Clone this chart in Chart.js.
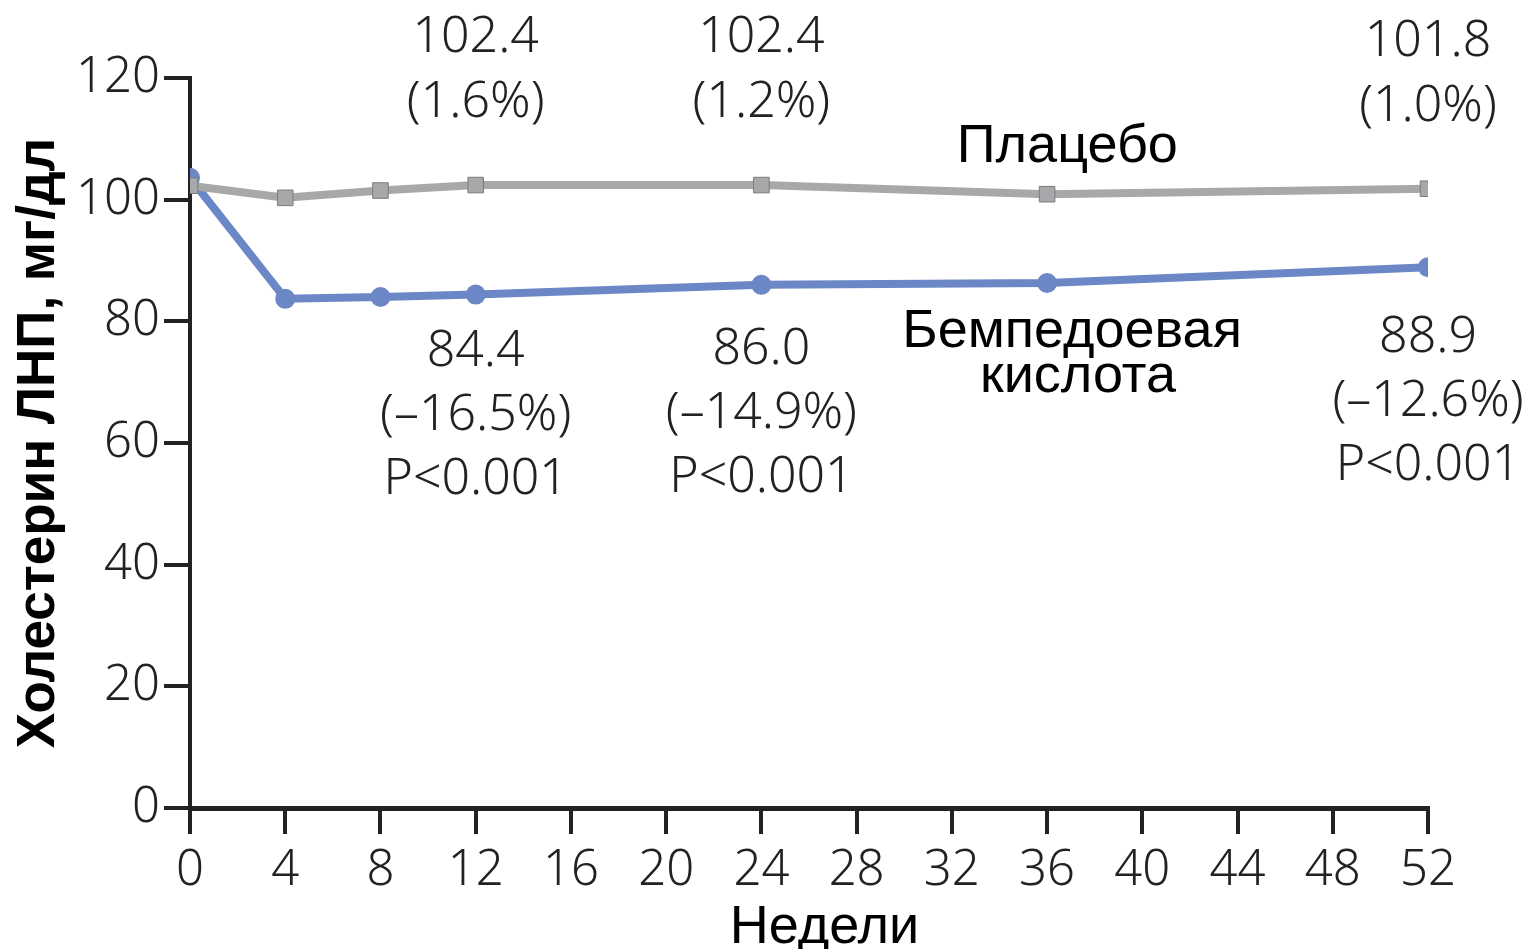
<!DOCTYPE html>
<html lang="ru">
<head>
<meta charset="UTF-8">
<title>Холестерин ЛНП</title>
<script src="https://cdn.jsdelivr.net/npm/chart.js"></script>
<style>
  html, body { margin: 0; padding: 0; background: #fff; }
  #wrap { width: 1532px; height: 949px; position: relative; }
</style>
</head>
<body>
<div id="wrap"><canvas id="ldl"></canvas></div>
<script>
// недели визита
const weeks = [0, 4, 8, 12, 24, 36, 52];
// средний ХС ЛНП, мг/дл
const placebo = [102.3, 100.3, 101.5, 102.4, 102.4, 100.9, 101.8];
const bempedoic = [103.6, 83.7, 84.0, 84.4, 86.0, 86.3, 88.9];

const xTicks = [0, 4, 8, 12, 16, 20, 24, 28, 32, 36, 40, 44, 48, 52];
const yTicks = [0, 20, 40, 60, 80, 100, 120];

// подписи значений (неделя -> строки)
const placeboNoteWeeks = [12, 24, 52];
const placeboNotes = [["102.4", "(1.6%)"], ["102.4", "(1.2%)"], ["101.8", "(1.0%)"]];
const bempNoteWeeks = [12, 24, 52];
const bempNotes = [
  ["84.4", "(–16.5%)", "P<0.001"],
  ["86.0", "(–14.9%)", "P<0.001"],
  ["88.9", "(–12.6%)", "P<0.001"]
];

const INK = "#222";
const BLUE = "#6b87c6";
const GREY = "#a7a8aa";
const numFont = "'Noto Sans', sans-serif";
const txtFont = "'Liberation Sans', Arial, sans-serif";

function pts(vals) {
  return weeks.map((w, i) => ({ x: w, y: vals[i] }));
}

// подписи над/под точками, названия групп и подпись оси X
const notesPlugin = {
  id: "notes",
  afterDatasetsDraw(chart) {
    const ctx = chart.ctx;
    const xs = chart.scales.x, ys = chart.scales.y;
    const bempShift = [-5, 3, 9];
    ctx.save();
    ctx.fillStyle = INK;
    ctx.textAlign = "center";
    ctx.textBaseline = "middle";
    ctx.font = "300 50px " + numFont;

    placeboNoteWeeks.forEach((w, i) => {
      const px = xs.getPixelForValue(w);
      const py = ys.getPixelForValue(placebo[weeks.indexOf(w)]);
      placeboNotes[i].forEach((line, k) => {
        ctx.fillText(line, px, py - 147 + k * 65);
      });
    });

    bempNoteWeeks.forEach((w, i) => {
      const px = xs.getPixelForValue(w);
      const py = ys.getPixelForValue(bempedoic[weeks.indexOf(w)]);
      bempNotes[i].forEach((line, k) => {
        ctx.fillText(line, px, py + 62 + bempShift[i] + k * 64);
      });
    });

    ctx.fillStyle = "#000";
    ctx.font = "54px " + txtFont;
    ctx.fillText("Плацебо", xs.getPixelForValue(36.85), ys.getPixelForValue(108.6));
    ctx.fillText("Бемпедоевая", xs.getPixelForValue(37.05), ys.getPixelForValue(78.3));
    ctx.fillText("кислота", xs.getPixelForValue(37.3), ys.getPixelForValue(70.9));

    ctx.fillText("Недели", xs.getPixelForValue(26.65), chart.chartArea.bottom + 120);
    ctx.restore();
  }
};

new Chart(document.getElementById("ldl"), {
  type: "line",
  data: {
    datasets: [
      {
        label: "Плацебо",
        data: pts(placebo),
        borderColor: GREY,
        backgroundColor: GREY,
        borderWidth: 8,
        pointStyle: "rect",
        pointRadius: 11,
        pointBorderColor: "#7a7b7d",
        pointBorderWidth: 1,
        tension: 0
      },
      {
        label: "Бемпедоевая кислота",
        data: pts(bempedoic),
        borderColor: BLUE,
        backgroundColor: BLUE,
        borderWidth: 8,
        pointStyle: "circle",
        pointRadius: 10,
        pointBorderWidth: 0,
        tension: 0
      }
    ]
  },
  options: {
    responsive: true,
    maintainAspectRatio: false,
    animation: false,
    layout: { padding: { top: 78, right: 104, left: 0, bottom: 0 } },
    plugins: {
      legend: { display: false },
      tooltip: { enabled: false }
    },
    scales: {
      x: {
        type: "linear",
        min: 0,
        max: 52,
        afterBuildTicks(scale) {
          scale.ticks = xTicks.map(v => ({ value: v }));
        },
        afterFit(scale) { scale.height = 141; },
        border: { display: true, color: INK, width: 5 },
        grid: { drawOnChartArea: false, drawTicks: true, tickLength: 26, color: INK, lineWidth: 4 },
        ticks: { color: INK, padding: 8, maxRotation: 0, font: { family: numFont, size: 49, weight: 300 } },
        title: { display: false }
      },
      y: {
        min: 0,
        max: 120,
        afterBuildTicks(scale) {
          scale.ticks = yTicks.map(v => ({ value: v }));
        },
        afterFit(scale) { scale.width = 190; },
        border: { display: true, color: INK, width: 4 },
        grid: { drawOnChartArea: false, drawTicks: true, tickLength: 26, color: INK, lineWidth: 4 },
        ticks: { color: INK, padding: 4, font: { family: numFont, size: 49, weight: 300 } },
        title: {
          display: true,
          text: "Холестерин ЛНП, мг/дл",
          color: "#000",
          padding: { top: 8, bottom: 0 },
          font: { family: txtFont, size: 53, weight: "bold" }
        }
      }
    }
  },
  plugins: [notesPlugin]
});
</script>
</body>
</html>
